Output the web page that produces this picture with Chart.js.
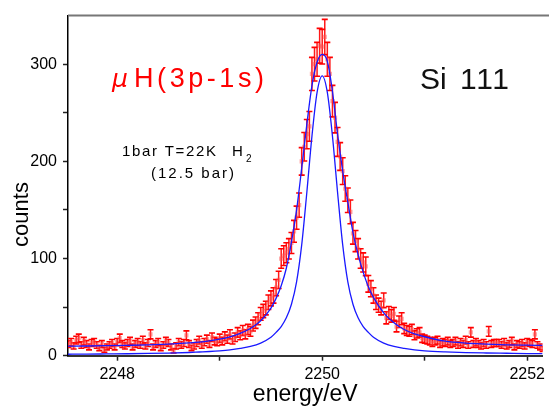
<!DOCTYPE html>
<html><head><meta charset="utf-8">
<script src="https://cdn.jsdelivr.net/npm/chart.js@4"></script>
<style>html,body{margin:0;padding:0;background:#fff;overflow:hidden}</style>
</head><body>
<canvas id="c" width="549" height="411"></canvas>
<script>
// ---- data ----
const energyStart = 2247.525;   // eV, first measured bin
const energyStep = 0.025;       // eV, bin width
const counts = [
  12,14,10,16,18,11,15,12,9,13,
  14,11,8,12,6,9,11,13,9,14,
  18,12,10,13,15,9,12,14,11,16,
  10,13,22,9,12,14,8,11,15,13,
  9,5,10,14,11,13,21,12,8,10,
  13,16,11,14,17,12,19,15,14,
  18,15,20,17,22,16,19,24,21,26,22,
  27,25,31,34,38,43,46,49,55,59,
  62,70,78,100,103,106,110,116,128,142,
  155,200,215,228,236,290,300,305,319,318,
  328,305,290,262,245,220,205,190,172,160,
  148,126,118,110,100,96,92,74,69,62,
  55,52,49,57,39,44,41,43,30,35,
  38,28,26,25,27,21,23,24,18,17,
  16,15,13,15,16,12,14,13,15,12,
  13,15,11,14,12,16,11,24,12,14,
  12,10,13,11,25,12,13,13,13,11,
  14,10,12,15,9,12,11,13,10,14,
  13,12,22,11,9,7
];
const curveEnergy = [2247.5,2247.7,2247.9,2248.1,2248.3,2248.5,2248.7,2248.8,2248.9,2249.0,
  2249.1,2249.2,2249.3,2249.4,2249.5,2249.55,2249.6,2249.65,2249.7,2249.75,
  2249.8,2249.85,2249.9,2249.95,2250.0,2250.05,2250.1,2250.15,2250.2,2250.25,
  2250.3,2250.35,2250.4,2250.45,2250.5,2250.6,2250.7,2250.8,2250.9,2251.0,
  2251.2,2251.4,2251.6,2251.8,2252.0,2252.15];
const fitCounts = [9.8,10,10.3,10.7,11.2,12,13.2,14,15.3,17,
  19.5,23,28,36,49,59,72,90,117,150,
  193,238,278,302,310,303,272,228,190,158,
  127,104,86,71,60,44,34,27,22.5,19.5,
  15,13,12,11.2,10.8,10.6];
const responseCounts = [1.5,1.6,1.8,2.0,2.3,2.7,3.3,3.8,4.3,5,
  6,7.5,9.5,13,19,24,30,39,53,76,
  114,168,226,271,288,271,226,168,114,76,
  53,39,30,24,19,13,9.5,7.5,6,5,
  3.9,3.2,2.8,2.5,2.2,2.1];
const xTickLabels = ['2248','2250','2252'];
const yTickLabels = ['0','100','200','300'];
const xTitle = 'energy/eV';
const yTitle = 'counts';
const muText = 'μ';
const lineText = 'H(3p-1s)';
const crystalText = ['Si', '111'];
const condText1 = '1bar T=22K';
const gasText = 'H';
const gasSub = '2';
const condText2 = '(12.5 bar)';

const FONT = '"Liberation Sans", Arial, sans-serif';

const dataPoints = counts.map((c, i) => ({x: +(energyStart + i * energyStep).toFixed(3), y: c}));
const fitPoints = curveEnergy.map((e, i) => ({x: e, y: fitCounts[i]}));
const respPoints = curveEnergy.map((e, i) => ({x: e, y: responseCounts[i]}));

function drawSpan(ctx, text, x0, x1, baseline) {
  const chars = [...text];
  const w = chars.map(ch => ctx.measureText(ch).width);
  const total = w.reduce((a, b) => a + b, 0);
  const gap = chars.length > 1 ? ((x1 - x0) - total) / (chars.length - 1) : 0;
  let x = x0;
  chars.forEach((ch, i) => { ctx.fillText(ch, x, baseline); x += w[i] + gap; });
}

const errorBars = {
  id: 'errorBars',
  beforeDatasetsDraw(chart) {
    const {ctx, chartArea: a, scales: {x, y}} = chart;
    ctx.save();
    ctx.beginPath(); ctx.rect(a.left, a.top, a.right - a.left, a.bottom - a.top); ctx.clip();
    dataPoints.forEach(p => {
      const err = Math.sqrt(p.y);
      const px = x.getPixelForValue(p.x);
      const t = y.getPixelForValue(p.y + err);
      const b = y.getPixelForValue(p.y - err);
      ctx.strokeStyle = 'rgba(255,0,0,0.9)';
      ctx.lineWidth = 1.5;
      ctx.beginPath(); ctx.moveTo(px, t); ctx.lineTo(px, b); ctx.stroke();
      ctx.strokeStyle = 'rgb(255,0,0)';
      ctx.lineWidth = 1.6;
      ctx.beginPath();
      ctx.moveTo(px - 3, t); ctx.lineTo(px + 3, t);
      ctx.moveTo(px - 3, b); ctx.lineTo(px + 3, b);
      ctx.stroke();
    });
    ctx.restore();
  }
};

const decorations = {
  id: 'decorations',
  afterDraw(chart) {
    const {ctx, chartArea: a} = chart;
    ctx.save();
    // top frame line
    ctx.strokeStyle = '#777'; ctx.lineWidth = 2;
    ctx.beginPath(); ctx.moveTo(a.left, a.top); ctx.lineTo(chart.width, a.top); ctx.stroke();
    // y title
    ctx.fillStyle = '#000';
    ctx.font = '22px ' + FONT;
    ctx.save();
    ctx.translate(28, 214.5); ctx.rotate(-Math.PI / 2);
    ctx.textAlign = 'center'; ctx.textBaseline = 'alphabetic';
    ctx.fillText(yTitle, 0, 0);
    ctx.restore();
    ctx.textAlign = 'left'; ctx.textBaseline = 'alphabetic';
    // red title
    ctx.fillStyle = '#ff0000';
    ctx.font = 'italic 25px "DejaVu Sans", sans-serif';
    ctx.fillText(muText, 112, 87);
    ctx.font = '27px ' + FONT;
    drawSpan(ctx, lineText, 134, 264, 87);
    // crystal
    ctx.fillStyle = '#111';
    ctx.font = '30px ' + FONT;
    ctx.fillText(crystalText[0], 420, 88.5);
    drawSpan(ctx, crystalText[1], 460, 509, 88.5);
    // conditions
    ctx.fillStyle = '#000';
    ctx.font = '15px ' + FONT;
    drawSpan(ctx, condText1, 122, 216, 156);
    ctx.fillText(gasText, 232, 156);
    ctx.font = '10px ' + FONT;
    ctx.fillText(gasSub, 246, 161.5);
    ctx.font = '15px ' + FONT;
    drawSpan(ctx, condText2, 151, 234, 177.5);
    ctx.restore();
  }
};

new Chart(document.getElementById('c').getContext('2d'), {
  type: 'scatter',
  data: {
    datasets: [
      {label: 'data', data: dataPoints, showLine: false, pointStyle: 'rect', pointRadius: 3,
       pointBackgroundColor: 'rgba(255,80,80,0.5)', pointBorderWidth: 0, order: 3},
      {type: 'line', label: 'fit', data: fitPoints, borderColor: 'rgb(25,25,255)', borderWidth: 1.3,
       pointRadius: 0, cubicInterpolationMode: 'monotone', fill: false, order: 1},
      {type: 'line', label: 'response', data: respPoints, borderColor: 'rgb(25,25,255)', borderWidth: 1.3,
       pointRadius: 0, cubicInterpolationMode: 'monotone', fill: false, order: 2}
    ]
  },
  options: {
    responsive: false, animation: false, devicePixelRatio: 1,
    layout: {padding: {top: 13, right: 0, left: 0, bottom: 0}, autoPadding: false},
    plugins: {legend: {display: false}, tooltip: {enabled: false}},
    scales: {
      x: {
        type: 'linear', min: 2247.52, max: 2252.15,
        afterFit(s) { s.height = 55.3; },
        border: {color: '#333', width: 2},
        grid: {drawOnChartArea: false, drawTicks: true, tickLength: 5, tickColor: '#222', tickWidth: 1.5},
        ticks: {stepSize: 1, includeBounds: false, autoSkip: false, maxRotation: 0, padding: 4,
          color: '#000', font: {family: FONT, size: 16},
          callback(v) { const s = String(Math.round(v)); return xTickLabels.includes(s) ? s : ''; }},
        title: {display: true, text: xTitle, color: '#000', font: {family: FONT, size: 23},
          padding: {top: 0, bottom: 2.2}}
      },
      y: {
        type: 'linear', min: 0, max: 350,
        afterFit(s) { s.width = 68; },
        afterBuildTicks(s) { s.ticks = s.ticks.filter(t => t.value < 349); },
        border: {color: '#000', width: 1.5},
        grid: {drawOnChartArea: false, drawTicks: true, tickLength: 5, tickColor: '#222', tickWidth: 1.5},
        ticks: {stepSize: 50, includeBounds: false, autoSkip: false, padding: 6,
          color: '#000', font: {family: FONT, size: 16},
          callback(v) { const s = String(Math.round(v)); return yTickLabels.includes(s) ? s : ''; }},
        title: {display: false}
      }
    }
  },
  plugins: [errorBars, decorations]
});
</script>
</body></html>
